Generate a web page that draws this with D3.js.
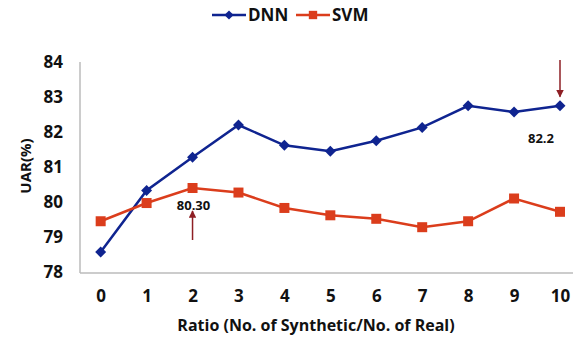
<!DOCTYPE html>
<html>
<head>
<meta charset="utf-8">
<script src="https://cdn.jsdelivr.net/npm/d3@7"></script>
<style>
  body { margin: 0; background: #fff; }
  svg text { font-family: "Open Sans", sans-serif; font-weight: 700; fill: #111; }
</style>
</head>
<body>
<div id="chart"></div>
<script>
// data
var ratios = [0, 1, 2, 3, 4, 5, 6, 7, 8, 9, 10];
var dnnValues = [78.57, 80.33, 81.28, 82.2, 81.62, 81.45, 81.75, 82.13, 82.75, 82.57, 82.75];
var svmValues = [79.45, 79.97, 80.4, 80.27, 79.83, 79.62, 79.52, 79.28, 79.45, 80.1, 79.72];
var yTicks = [78, 79, 80, 81, 82, 83, 84];

var width = 573, height = 338;
var margin = {left: 80, right: 11, top: 62, bottom: 65};

var svg = d3.select("#chart").append("svg")
    .attr("width", width)
    .attr("height", height);

var x = d3.scaleLinear().domain([-0.45, 10]).range([margin.left, 560]);
var y = d3.scaleLinear().domain([78, 84]).range([272, margin.top]);

// axes (plain lines, labels without tick marks)
var xAxis = svg.append("g")
    .attr("transform", "translate(0," + 273 + ")")
    .call(d3.axisBottom(x).tickValues(ratios).tickSize(0).tickPadding(17).tickFormat(d3.format("d")));
xAxis.select(".domain").attr("stroke", "#bbb").attr("stroke-width", 1.5)
    .attr("d", "M" + margin.left + ",0H" + width);
xAxis.selectAll("text").style("font-size", "17px");

var yAxis = svg.append("g")
    .attr("transform", "translate(" + margin.left + ",0)")
    .call(d3.axisLeft(y).tickValues(yTicks).tickSize(0).tickPadding(17).tickFormat(d3.format("d")));
yAxis.select(".domain").attr("stroke", "#bbb").attr("stroke-width", 1.5)
    .attr("d", "M0," + 273 + "V" + margin.top);
yAxis.selectAll("text").style("font-size", "17px");

// axis titles
svg.append("text")
    .attr("x", 316).attr("y", 331)
    .attr("text-anchor", "middle")
    .style("font-size", "16px")
    .text("Ratio (No. of Synthetic/No. of Real)");

svg.append("text")
    .attr("transform", "translate(31,166) rotate(-90)")
    .attr("text-anchor", "middle")
    .style("font-size", "15px")
    .text("UAR(%)");

var series = [
  {name: "DNN", values: dnnValues, color: "#0f2490", rot: 45, size: 60},
  {name: "SVM", values: svmValues, color: "#db3d1c", rot: 0, size: 100}
];

var line = d3.line()
    .x(function(d, i) { return x(ratios[i]); })
    .y(function(d) { return y(d); });

series.forEach(function(s) {
  svg.append("path")
      .datum(s.values)
      .attr("fill", "none")
      .attr("stroke", s.color)
      .attr("stroke-width", 2.5)
      .attr("d", line);

  svg.selectAll(".pt-" + s.name)
      .data(s.values)
      .enter().append("path")
      .attr("class", "pt-" + s.name)
      .attr("transform", function(d, i) {
        return "translate(" + x(ratios[i]) + "," + y(d) + ") rotate(" + s.rot + ")";
      })
      .attr("d", d3.symbol().type(d3.symbolSquare).size(s.size))
      .attr("fill", s.color);
});

// legend
var legend = svg.append("g");
var legendX = [212, 296];
series.forEach(function(s, i) {
  var g = legend.append("g").attr("transform", "translate(" + legendX[i] + ",15)");
  g.append("line").attr("x1", 0).attr("x2", 34).attr("stroke", s.color).attr("stroke-width", 2.5);
  g.append("path")
      .attr("transform", "translate(17,0) rotate(" + s.rot + ")")
      .attr("d", d3.symbol().type(d3.symbolSquare).size(s.size * 0.7))
      .attr("fill", s.color);
  g.append("text").attr("x", 36).attr("y", 6).style("font-size", "17px").text(s.name);
});

// annotations
var arrowColor = "#8e1f24";
svg.append("defs").append("marker")
    .attr("id", "head")
    .attr("viewBox", "0 0 10 10")
    .attr("refX", 9).attr("refY", 5)
    .attr("markerWidth", 5).attr("markerHeight", 5)
    .attr("orient", "auto")
    .append("path").attr("d", "M0,0L10,5L0,10z").attr("fill", arrowColor);

svg.append("line")
    .attr("x1", x(10)).attr("x2", x(10))
    .attr("y1", 60).attr("y2", y(dnnValues[10]) - 9)
    .attr("stroke", arrowColor).attr("stroke-width", 1.5)
    .attr("marker-end", "url(#head)");
svg.append("text")
    .attr("x", 528).attr("y", y(dnnValues[10]) + 37)
    .style("font-size", "13px")
    .text("82.2");

svg.append("line")
    .attr("x1", x(2)).attr("x2", x(2))
    .attr("y1", 240).attr("y2", 211)
    .attr("stroke", arrowColor).attr("stroke-width", 1.5)
    .attr("marker-end", "url(#head)");
svg.append("text")
    .attr("x", x(2) + 1).attr("y", 210)
    .attr("text-anchor", "middle")
    .style("font-size", "13px")
    .text("80.30");
</script>
</body>
</html>
